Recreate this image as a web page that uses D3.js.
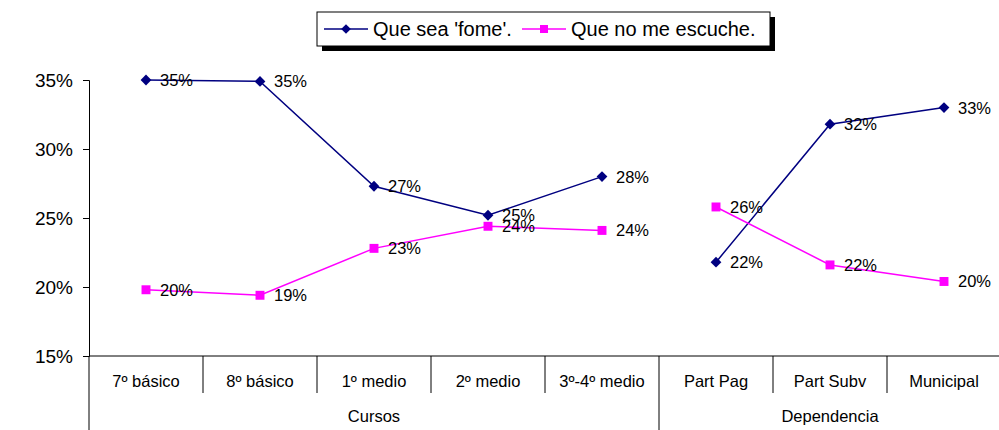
<!DOCTYPE html>
<html>
<head>
<meta charset="utf-8">
<script src="https://cdn.jsdelivr.net/npm/d3@7"></script>
<style>
  body { margin: 0; background: #fff; }
  svg { display: block; font-family: "Liberation Sans", Arial, sans-serif; }
</style>
</head>
<body>
<div id="chart"></div>
<script>
// Data
const categories = ["7º básico", "8º básico", "1º medio", "2º medio", "3º-4º medio", "Part Pag", "Part Subv", "Municipal"];
const groups = [
    { name: "Cursos", from: 0, to: 4 },
    { name: "Dependencia", from: 5, to: 7 }
];
const fome = [0.350, 0.349, 0.273, 0.252, 0.280, 0.218, 0.318, 0.330];
const escuche = [0.198, 0.194, 0.228, 0.244, 0.241, 0.258, 0.216, 0.204];
const yTicks = [0.15, 0.20, 0.25, 0.30, 0.35];

const width = 999, height = 430;
const margin = { left: 89, right: -2, top: 80, bottom: 74 };

const svg = d3.select("#chart")
    .append("svg")
    .attr("width", width)
    .attr("height", height);

const x = d3.scaleBand()
    .domain(categories)
    .range([margin.left, width - margin.right]);

const y = d3.scaleLinear()
    .domain([0.15, 0.35])
    .range([height - margin.bottom, margin.top]);

const baseY = y(0.15);
const pct = d3.format(".0%");

// Y axis
const yAxis = svg.append("g")
    .attr("transform", `translate(${margin.left},0)`)
    .call(d3.axisLeft(y).tickValues(yTicks).tickFormat(pct).tickSize(6).tickPadding(10));
yAxis.select(".domain").attr("stroke", "#000");
yAxis.selectAll(".tick line").attr("stroke", "#000");
yAxis.selectAll(".tick text").style("font-size", "19px").attr("fill", "#000")
    .style("font-family", "'Liberation Sans', Arial, sans-serif");

// X axis baseline
svg.append("line")
    .attr("x1", margin.left).attr("x2", width)
    .attr("y1", baseY).attr("y2", baseY)
    .attr("stroke", "#000");

// category separators
categories.forEach((c, i) => {
    if (i === 0) return;
    const isGroup = groups.some(g => g.from === i);
    svg.append("line")
        .attr("x1", x(c)).attr("x2", x(c))
        .attr("y1", baseY).attr("y2", isGroup ? height : baseY + 37)
        .attr("stroke", "#000");
});
svg.append("line")
    .attr("x1", margin.left).attr("x2", margin.left)
    .attr("y1", baseY).attr("y2", height)
    .attr("stroke", "#000");

svg.append("g").selectAll("text")
    .data(categories)
    .join("text")
    .attr("x", d => x(d) + x.bandwidth() / 2)
    .attr("y", baseY + 31)
    .attr("text-anchor", "middle")
    .style("font-size", "16.5px")
    .text(d => d);

svg.append("g").selectAll("text")
    .data(groups)
    .join("text")
    .attr("x", g => (x(categories[g.from]) + x(categories[g.to]) + x.bandwidth()) / 2)
    .attr("y", baseY + 66)
    .attr("text-anchor", "middle")
    .style("font-size", "16.5px")
    .text(g => g.name);

// Series
const series = [
    { name: "Que sea 'fome'.", values: fome, color: "#000080", marker: d3.symbolSquare, size: 58, rotate: 45 },
    { name: "Que no me escuche.", values: escuche, color: "#ff00ff", marker: d3.symbolSquare, size: 80, rotate: 0 }
];

const line = d3.line()
    .x(d => x(categories[d]) + x.bandwidth() / 2);

series.forEach(s => {
    line.y(d => y(s.values[d]));
    groups.forEach(g => {
        svg.append("path")
            .attr("d", line(d3.range(g.from, g.to + 1)))
            .attr("fill", "none")
            .attr("stroke", s.color)
            .attr("stroke-width", 1.5);
    });
    svg.append("g").selectAll("path")
        .data(s.values)
        .join("path")
        .attr("transform", (d, i) => `translate(${x(categories[i]) + x.bandwidth() / 2},${y(d)}) rotate(${s.rotate})`)
        .attr("d", d3.symbol(s.marker, s.size))
        .attr("fill", s.color);
    svg.append("g").selectAll("text")
        .data(s.values)
        .join("text")
        .attr("x", (d, i) => x(categories[i]) + x.bandwidth() / 2 + 14)
        .attr("y", d => y(d) + 6)
        .style("font-size", "16.5px")
        .text(d => pct(d));
});

// Legend
const legend = svg.append("g").attr("transform", "translate(317,12)");
legend.append("rect").attr("x", 5).attr("y", 5).attr("width", 453).attr("height", 34).attr("fill", "#000");
legend.append("rect").attr("width", 453).attr("height", 34).attr("fill", "#fff").attr("stroke", "#000");
const legendPos = [7, 205];
series.forEach((s, i) => {
    const lg = legend.append("g").attr("transform", `translate(${legendPos[i]},17)`);
    lg.append("line").attr("x1", 0).attr("x2", 44).attr("stroke", s.color).attr("stroke-width", 1.5);
    lg.append("path").attr("transform", `translate(22,0) rotate(${s.rotate})`)
        .attr("d", d3.symbol(s.marker, s.size * 0.8)).attr("fill", s.color);
    lg.append("text").attr("x", 49).attr("y", 7).style("font-size", "20px").text(s.name);
});
</script>
</body>
</html>
